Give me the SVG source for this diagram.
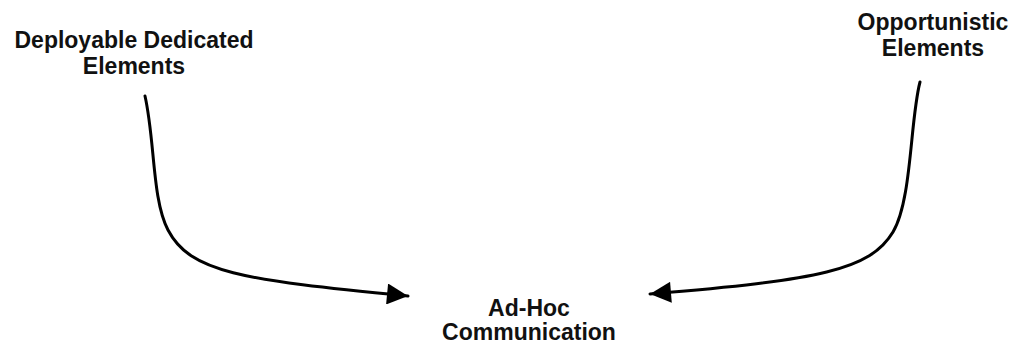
<svg xmlns="http://www.w3.org/2000/svg" width="1014" height="345" viewBox="0 0 1014 345">
  <style>
    .label { font-family: "Liberation Sans", Arial, Helvetica, sans-serif; font-weight: bold; font-size: 23px; fill: #111; text-anchor: middle; }
    .flow { fill: none; stroke: #000; stroke-width: 3; stroke-linecap: round; }
  </style>
  <defs>
    <marker id="head" viewBox="0 0 10 10" refX="10" refY="5" markerWidth="9" markerHeight="7" markerUnits="strokeWidth" orient="auto">
      <path d="M0,0 L10,5 L0,10 Z" fill="#000"/>
    </marker>
  </defs>
  <rect width="1014" height="345" fill="#fff"/>
  <g id="connectors">
    <path class="flow" d="M145,96 C155,140 152,200 168,230 C190,272 240,280 408,296" marker-end="url(#head)"/>
    <path class="flow" d="M920,82 C910,120 912,200 893,232 C870,270 820,280 650,294" marker-end="url(#head)"/>
  </g>
  <g id="deployable-dedicated-elements">
    <text class="label" x="134" y="48">Deployable Dedicated</text>
    <text class="label" x="134" y="74">Elements</text>
  </g>
  <g id="opportunistic-elements">
    <text class="label" x="933" y="30">Opportunistic</text>
    <text class="label" x="933" y="56">Elements</text>
  </g>
  <g id="ad-hoc-communication">
    <text class="label" x="529" y="316">Ad-Hoc</text>
    <text class="label" x="529" y="340">Communication</text>
  </g>
</svg>
